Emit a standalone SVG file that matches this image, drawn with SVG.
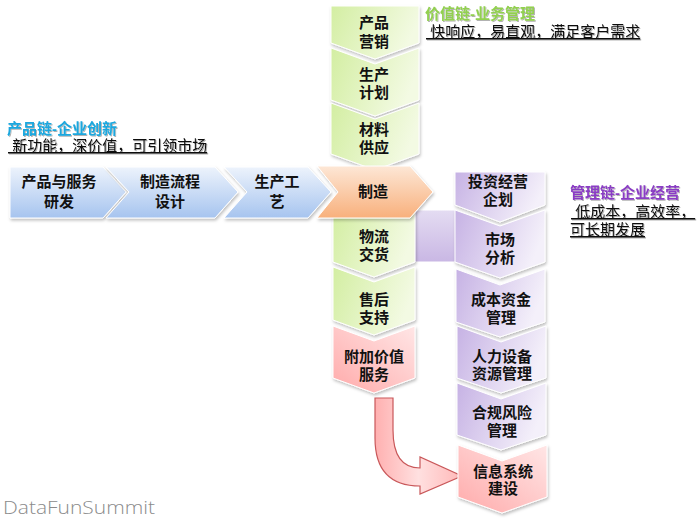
<svg xmlns="http://www.w3.org/2000/svg" width="700" height="520" viewBox="0 0 700 520">
<defs>
<linearGradient id="gGreen" x1="0" y1="0" x2="1" y2="0.3"><stop offset="0" stop-color="#d3eea2"/><stop offset="1" stop-color="#f3fae3"/></linearGradient>
<linearGradient id="gBlue" x1="0" y1="0" x2="0" y2="1"><stop offset="0" stop-color="#edf3fc"/><stop offset="1" stop-color="#a6c4ef"/></linearGradient>
<linearGradient id="gOrange" x1="0" y1="0" x2="0" y2="1"><stop offset="0" stop-color="#fde7d6"/><stop offset="1" stop-color="#f8b07c"/></linearGradient>
<linearGradient id="gPurple" x1="0" y1="0" x2="1" y2="0.3"><stop offset="0" stop-color="#c6b2e4"/><stop offset="1" stop-color="#f4f0fa"/></linearGradient>
<linearGradient id="gConn" x1="0" y1="0" x2="0" y2="1"><stop offset="0" stop-color="#e4dcf2"/><stop offset="1" stop-color="#c9b7e4"/></linearGradient>
<linearGradient id="gRed" x1="0" y1="1" x2="1" y2="0"><stop offset="0" stop-color="#ffaaaa"/><stop offset="1" stop-color="#ffe6e6"/></linearGradient>
<linearGradient id="gArrow" x1="0" y1="0" x2="1" y2="0"><stop offset="0" stop-color="#ffb0b0"/><stop offset="0.5" stop-color="#ffe0e0"/><stop offset="1" stop-color="#ffb8b8"/></linearGradient>
<filter id="sh" x="-10%" y="-10%" width="130%" height="130%"><feDropShadow dx="1" dy="2" stdDeviation="1.5" flood-color="#000" flood-opacity="0.25"/></filter>
<filter id="tsh" x="-5%" y="-20%" width="110%" height="150%"><feDropShadow dx="1" dy="1" stdDeviation="0.6" flood-color="#000" flood-opacity="0.3"/></filter>
</defs>
<style>
.sh{stroke:#ffffff;stroke-width:1;filter:url(#sh)}
.green{fill:url(#gGreen)}
.blue{fill:url(#gBlue)}
.orange{fill:url(#gOrange)}
.purple{fill:url(#gPurple)}
.red{fill:url(#gRed)}
.lbl{font-family:"Liberation Sans","Noto Sans CJK SC",sans-serif;font-size:15px;font-weight:bold;fill:#111;text-anchor:middle}
.ttl{font-family:"Liberation Sans","Noto Sans CJK SC",sans-serif;font-size:15px;font-weight:bold;filter:url(#tsh)}
.sub{font-family:"Liberation Sans","Noto Sans CJK SC",sans-serif;font-size:15px;fill:#111;text-decoration:underline;filter:url(#tsh)}
</style>

<g id="connectors">
<rect x="413" y="210" width="45" height="52" fill="url(#gConn)" stroke="#ffffff" stroke-width="1"/>
<path d="M375,398 L393,398 L393,430 Q393,468 420,468 L420,457 L462,476 L420,494 L420,486 Q375,486 375,438 Z" fill="url(#gArrow)" stroke="#c9585a" stroke-width="1.2" stroke-linejoin="miter"/>
</g>

<g id="n-wuliu"><polygon class="sh green" points="333,210 415,210 415,262 374,277 333,262"/><text class="lbl" x="374" y="242">物流</text><text class="lbl" x="374" y="260">交货</text></g>
<g id="n-shouhou"><polygon class="sh green" points="333,267 374,282 415,267 415,320 374,335 333,320"/><text class="lbl" x="374" y="305">售后</text><text class="lbl" x="374" y="323">支持</text></g>
<g id="n-fujia"><polygon class="sh red" points="333,326 374,341 415,326 415,378 374,393 333,378"/><text class="lbl" x="374" y="362">附加价值</text><text class="lbl" x="374" y="380">服务</text></g>

<g id="n-yingxiao"><polygon class="sh green" points="331,6 419,6 419,43 375,59 331,43"/><text class="lbl" x="374" y="28">产品</text><text class="lbl" x="374" y="47">营销</text></g>
<g id="n-jihua"><polygon class="sh green" points="331,48 375,64 419,48 419,100 375,116 331,100"/><text class="lbl" x="374" y="80">生产</text><text class="lbl" x="374" y="98">计划</text></g>
<g id="n-gongying"><polygon class="sh green" points="331,103 375,119 419,103 419,154 375,170 331,154"/><text class="lbl" x="374" y="135">材料</text><text class="lbl" x="374" y="153">供应</text></g>

<g id="n-yanfa"><polygon class="sh blue" points="10,167 103,167 126,192 103,218 10,218"/><text class="lbl" x="59" y="187">产品与服务</text><text class="lbl" x="59" y="207">研发</text></g>
<g id="n-sheji"><polygon class="sh blue" points="106,167 215,167 238,192 215,218 106,218 129,192"/><text class="lbl" x="170" y="187">制造流程</text><text class="lbl" x="170" y="207">设计</text></g>
<g id="n-gongyi"><polygon class="sh blue" points="224,167 308,167 331,192 308,218 224,218 247,192"/><text class="lbl" x="277" y="187">生产工</text><text class="lbl" x="277" y="207">艺</text></g>
<g id="n-zhizao"><polygon class="sh orange" points="317,166 410,166 433,192 410,218 317,218 338,192"/><text class="lbl" x="373" y="197">制造</text></g>

<g id="n-touzi"><polygon class="sh purple" points="455,172 545,172 545,205 500,222 455,205"/><text class="lbl" x="498" y="187">投资经营</text><text class="lbl" x="498" y="205">企划</text></g>
<g id="n-shichang"><polygon class="sh purple" points="455,210 500,226 545,210 545,262 500,278 455,262"/><text class="lbl" x="500" y="245">市场</text><text class="lbl" x="500" y="263">分析</text></g>
<g id="n-chengben"><polygon class="sh purple" points="456,269 500,285 545,269 545,322 500,337 456,322"/><text class="lbl" x="501" y="305">成本资金</text><text class="lbl" x="501" y="323">管理</text></g>
<g id="n-renli"><polygon class="sh purple" points="457,326 501,342 546,326 546,378 501,393 457,378"/><text class="lbl" x="502" y="362">人力设备</text><text class="lbl" x="502" y="379">资源管理</text></g>
<g id="n-hegui"><polygon class="sh purple" points="457,383 501,399 546,383 546,435 501,450 457,435"/><text class="lbl" x="502" y="418">合规风险</text><text class="lbl" x="502" y="436">管理</text></g>
<g id="n-xinxi"><polygon class="sh red" points="458,445 502,461 547,445 547,497 502,513 458,497"/><text class="lbl" x="503" y="477">信息系统</text><text class="lbl" x="503" y="494">建设</text></g>

<g id="titles">
<text class="ttl" x="425" y="19" fill="#92d050">价值链-业务管理</text>
<text class="sub" x="426" y="37" xml:space="preserve"> 快响应，易直观，满足客户需求</text>
<text class="ttl" x="7" y="134" fill="#1aa7de">产品链-企业创新</text>
<text class="sub" x="8" y="151" xml:space="preserve"> 新功能，深价值，可引领市场</text>
<text class="ttl" x="570" y="198" fill="#8a3cc4">管理链-企业经营</text>
<text class="sub" x="571" y="217" xml:space="preserve"> 低成本，高效率，</text>
<text class="sub" x="570" y="235">可长期发展</text>
</g>
<text x="3" y="514" font-family="'Open Sans',sans-serif" font-size="19" font-weight="300" fill="#8a8a8a" textLength="152" lengthAdjust="spacingAndGlyphs">DataFunSummit</text>
</svg>
